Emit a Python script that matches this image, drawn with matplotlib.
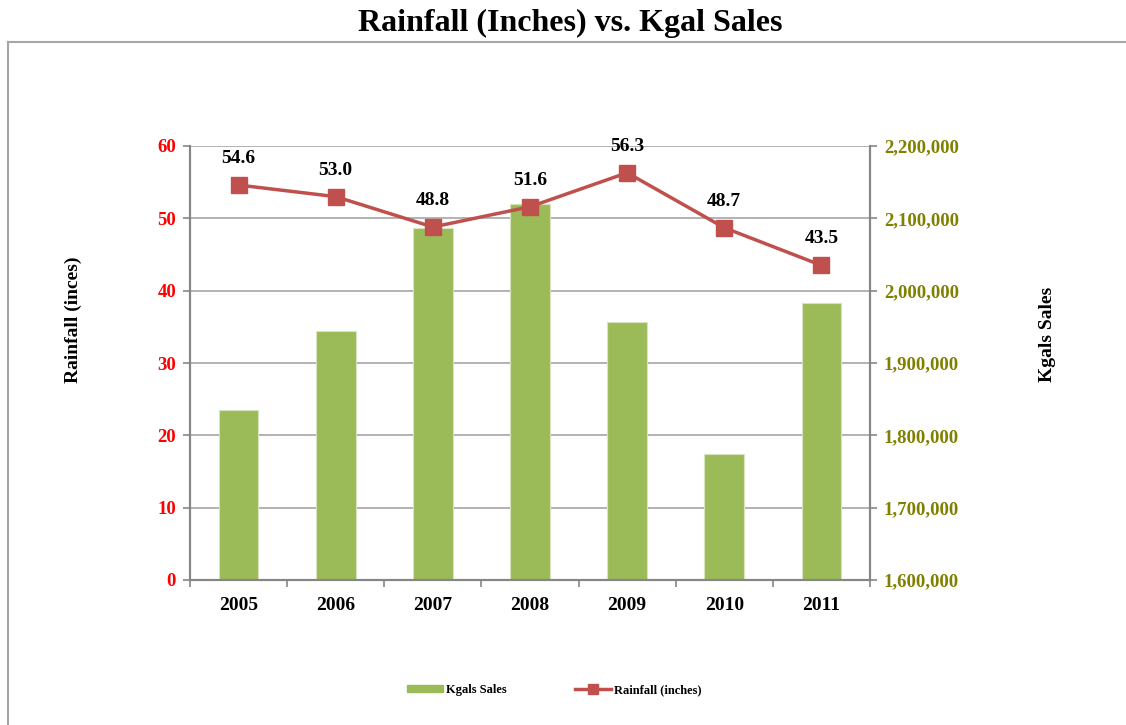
import matplotlib
matplotlib.use("Agg")
import matplotlib.pyplot as plt
from matplotlib.lines import Line2D
from matplotlib.patches import Patch
from matplotlib.ticker import FuncFormatter
import numpy as np

years = ["2005", "2006", "2007", "2008", "2009", "2010", "2011"]
rainfall = [54.6, 53.0, 48.8, 51.6, 56.3, 48.7, 43.5]
kgal_sales = [1835000, 1944000, 2087000, 2120000, 1957000, 1774000, 1983000]

BAR_C = "#9BBB59"
LINE_C = "#C0504D"
AX_C = "#868686"
GRID_C = "#A6A6A6"

plt.rcParams['font.family'] = ['Liberation Serif', 'DejaVu Serif']
plt.rcParams['font.weight'] = 'bold'

fig = plt.figure(figsize=(11.26, 7.25), dpi=100)
ax1 = fig.add_axes([190 / 1126, 1 - 580 / 725, 680 / 1126, 434 / 725])
ax2 = ax1.twinx()

x = np.arange(len(years))

# bars on the right axis, behind the line
ax2.bar(x, kgal_sales, width=0.41, color=BAR_C, edgecolor="#D7E4BD", linewidth=0.8, zorder=2)
ax2.set_ylim(1600000, 2200000)
ax2.set_yticks(np.arange(1600000, 2200001, 100000))
ax2.yaxis.set_major_formatter(FuncFormatter(lambda v, p: f"{int(v):,}"))
ax2.grid(axis='y', color=GRID_C, linewidth=1.2)
ax2.set_axisbelow(True)
ax2.tick_params(axis='y', labelcolor="#808000", color=AX_C, labelsize=13.5, length=5, width=1.2, pad=5)

# rainfall line on the left axis
ax1.set_zorder(ax2.get_zorder() + 1)
ax1.patch.set_visible(False)
ax1.plot(x, rainfall, color=LINE_C, linewidth=2.5, marker='s', markersize=11, zorder=3)
for xi, v in zip(x, rainfall):
    ax1.annotate(f"{v:.1f}", (xi, v), xytext=(0, 13), textcoords='offset points',
                 ha='center', va='bottom', fontsize=14, fontweight='bold', color='black')
ax1.set_ylim(0, 60)
ax1.set_yticks(range(0, 61, 10))
ax1.tick_params(axis='y', labelcolor="#FF0000", color=AX_C, labelsize=13.5, length=5, width=1.2, pad=5)

ax1.set_xlim(-0.5, len(years) - 0.5)
ax1.set_xticks(x)
ax1.set_xticklabels(years)
ax1.set_xticks(np.arange(-0.5, len(years), 1.0), minor=True)
ax1.tick_params(axis='x', which='major', length=0, labelsize=14, pad=12)
ax1.tick_params(axis='x', which='minor', length=5, width=1.2, color=AX_C)

for a in (ax1, ax2):
    a.spines['top'].set_visible(False)
    for s in ('left', 'right', 'bottom'):
        a.spines[s].set_color(AX_C)
        a.spines[s].set_linewidth(1.5)

fig.text(73 / 1126, 1 - 320 / 725, "Rainfall (inces)", rotation=90, ha='center', va='center',
         fontsize=14, fontweight='bold')
fig.text(1048 / 1126, 1 - 334 / 725, "Kgals Sales", rotation=90, ha='center', va='center',
         fontsize=14, fontweight='bold')
fig.text(570 / 1126, 1 - 23 / 725, "Rainfall (Inches) vs. Kgal Sales", ha='center', va='center',
         fontsize=23, fontweight='bold')

# outer chart frame (left and top edges)
fy = 1 - 42 / 725
fx = 8 / 1126
fig.add_artist(Line2D([fx, fx], [0, fy], transform=fig.transFigure, color="#A6A6A6", linewidth=1.5))
fig.add_artist(Line2D([fx, 1], [fy, fy], transform=fig.transFigure, color="#A6A6A6", linewidth=1.5))

handles = [Patch(facecolor=BAR_C, edgecolor=BAR_C),
           Line2D([], [], color=LINE_C, linewidth=2.5, marker='s', markersize=7)]
fig.legend(handles, ["Kgals Sales", "Rainfall (inches)"], loc='center', ncol=2,
           bbox_to_anchor=(554 / 1126, 1 - 690 / 725), frameon=False,
           prop={'size': 9, 'weight': 'bold'}, handlelength=2.9, handleheight=0.5,
           columnspacing=5.5, handletextpad=0.2)

fig.savefig("out.png", dpi=100)
